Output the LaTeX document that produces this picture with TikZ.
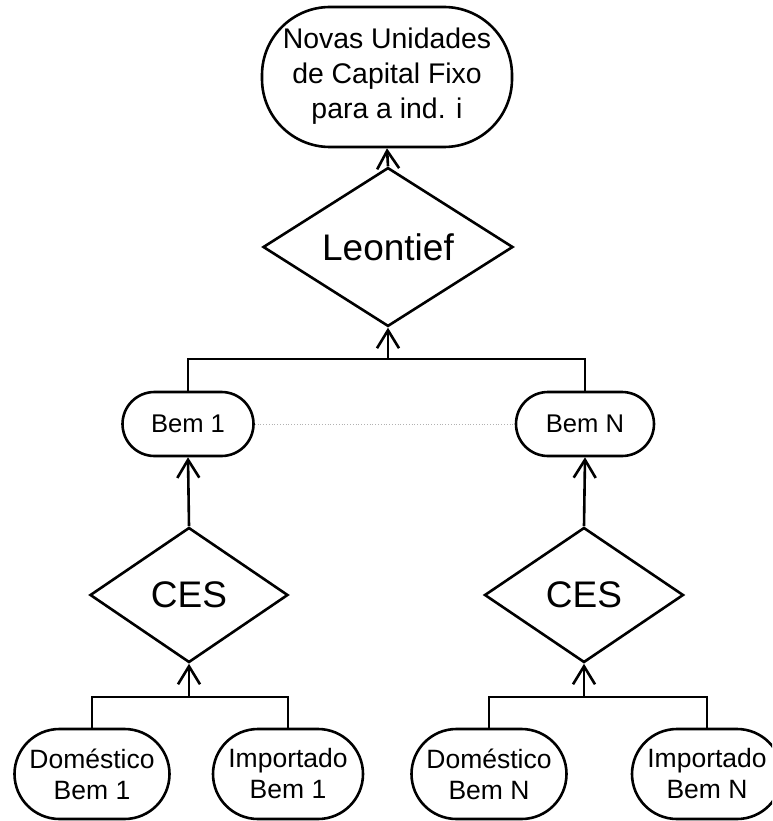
\documentclass[tikz,border=0pt]{standalone}
\usepackage{fontspec}
\setmainfont{Liberation Sans}
\usetikzlibrary{shapes.geometric, arrows.meta}

\begin{document}
\begin{tikzpicture}[x=1pt, y=-1pt,
    linha/.style={line width=2.6pt},
    seta/.style={linha, -{Straight Barb[length=18pt, width=22pt, line width=2.6pt]}},
    caixa/.style={draw, linha, rectangle, align=center, inner sep=0pt},
    func/.style={draw, linha, diamond, inner sep=0pt, font=\fontsize{37}{40}\selectfont}]
    \clip (0,0) rectangle (772,821);
    % topo
    \node[caixa, rounded corners=68pt, minimum width=250pt, minimum height=140pt,
          font=\fontsize{28.4}{35}\selectfont] (capital) at (387,77)
          {\raisebox{-3pt}{\begin{tabular}{@{}c@{}}Novas Unidades\\de Capital Fixo\\para a ind. i\end{tabular}}};
    \node[func, minimum width=250pt, minimum height=155pt] (leontief) at (388,247) {Leontief};
    % bens
    \node[caixa, rounded corners=32pt, minimum width=131pt, minimum height=64pt,
          font=\fontsize{25.6}{30}\selectfont] (bem1) at (188,424) {Bem 1};
    \node[caixa, rounded corners=32pt, minimum width=138pt, minimum height=64pt,
          font=\fontsize{25.6}{30}\selectfont] (bemN) at (585,424) {Bem N};
    \node[func, minimum width=198pt, minimum height=135pt] (ces1) at (189,595) {CES};
    \node[func, minimum width=199pt, minimum height=135pt] (cesN) at (584,595) {CES};
    % origens
    \node[caixa, rounded corners=45pt, minimum width=155pt, minimum height=90pt,
          font=\fontsize{26.5}{31}\selectfont] (dom1) at (92,774) {Doméstico\\Bem 1};
    \node[caixa, rounded corners=45pt, minimum width=150pt, minimum height=90pt,
          font=\fontsize{26.5}{31}\selectfont] (imp1) at (288,774) {Importado\\Bem 1};
    \node[caixa, rounded corners=45pt, minimum width=155pt, minimum height=90pt,
          font=\fontsize{26.5}{31}\selectfont] (domN) at (489,774) {Doméstico\\Bem N};
    \node[caixa, rounded corners=45pt, minimum width=150pt, minimum height=90pt,
          font=\fontsize{26.5}{31}\selectfont] (impN) at (707,774) {Importado\\Bem N};

    \coordinate (barra) at (0,359);
    \coordinate (barra1) at (0,697);

    \draw[seta] (leontief.north) -- (capital.south);
    \draw[linha] (bem1.north) |- (bemN.north |- barra) -- (bemN.north);
    \draw[seta] (leontief.south |- barra) -- (leontief.south);
    \draw[gray!60, line width=0.8pt, dotted] (bem1.east) -- (bemN.west);

    \draw[seta] (ces1.north) -- (bem1.south);
    \draw[seta] (cesN.north) -- (bemN.south);

    \draw[linha] (dom1.north) |- (imp1.north |- barra1) -- (imp1.north);
    \draw[seta] (ces1.south |- barra1) -- (ces1.south);
    \draw[linha] (domN.north) |- (impN.north |- barra1) -- (impN.north);
    \draw[seta] (cesN.south |- barra1) -- (cesN.south);
\end{tikzpicture}
\end{document}
